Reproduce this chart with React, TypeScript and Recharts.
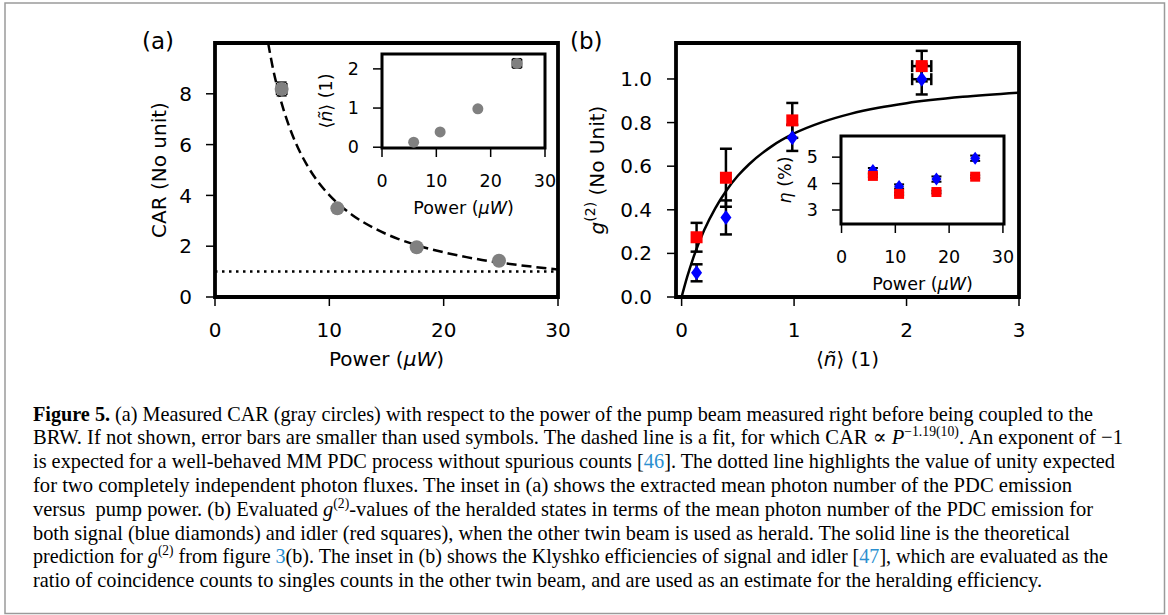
import React from "react";
import {
  ComposedChart, Scatter, Line, XAxis, YAxis, ErrorBar,
  ReferenceArea, ReferenceLine, Label,
} from "recharts";

// (a) CAR vs pump power
const powerUW = [5.83, 10.7, 17.64, 24.84];
const carValues = [8.19, 3.49, 1.96, 1.43];
const carErr = [0.27, 0, 0, 0];
const powerErr = [0.45, 0, 0, 0];

// dashed fit
const fitPower = [4.65, 5, 5.5, 6, 7, 8, 9, 10, 12, 14, 16, 18, 20, 22, 24, 26, 28, 30];
const fitCar = [10.0, 9.15, 8.17, 7.37, 6.13, 5.23, 4.54, 4.01, 3.23, 2.69, 2.29, 1.99, 1.76, 1.57, 1.41, 1.29, 1.18, 1.08];

// inset (a): mean photon number vs power
const meanN = [0.13, 0.39, 0.98, 2.14];
const meanNErr = [0, 0, 0, 0.12];
const insetPowerErr = [0, 0, 0, 0.85];

// (b) heralded g2 vs mean photon number
const nTilde = [0.133, 0.394, 0.984, 2.135];
const nTildeErr = [0, 0, 0, 0.085];
const g2Idler = [0.274, 0.547, 0.81, 1.059];
const g2IdlerErr = [0.066, 0.133, 0.08, 0.07];
const g2Signal = [0.111, 0.365, 0.73, 0.999];
const g2SignalErr = [0.039, 0.078, 0.06, 0.07];

// theory curve for g2
const theoryN = [0, 0.05, 0.1, 0.2, 0.3, 0.4, 0.5, 0.6, 0.8, 1, 1.25, 1.5, 1.75, 2, 2.5, 3];
const theoryG2 = [0, 0.093, 0.174, 0.306, 0.408, 0.49, 0.556, 0.609, 0.691, 0.75, 0.802, 0.84, 0.868, 0.889, 0.918, 0.9375];

// inset (b): Klyshko efficiencies (%)
const etaSignal = [4.49, 3.89, 4.17, 4.96];
const etaIdler = [4.29, 3.61, 3.68, 4.26];
const etaSignalErr = [0.1, 0.08, 0.1, 0.1];
const etaIdlerErr = [0.05, 0.05, 0.05, 0.05];

const FONT = "DejaVu Sans";
const SERIF = "'Liberation Serif', 'DejaVu Serif', serif";
const LINK = "#2b8fd0";

const carRows = powerUW.map((x, i) => ({ x, y: carValues[i], ex: powerErr[i], ey: carErr[i] }));
const fitRows = fitPower.map((x, i) => ({ x, y: fitCar[i] }));
const meanRows = powerUW.map((x, i) => ({ x, y: meanN[i], ex: insetPowerErr[i], ey: meanNErr[i] }));
const idlerRows = nTilde.map((x, i) => ({ x, y: g2Idler[i], ex: nTildeErr[i], ey: g2IdlerErr[i] }));
const signalRows = nTilde.map((x, i) => ({ x, y: g2Signal[i], ex: nTildeErr[i], ey: g2SignalErr[i] }));
const theoryRows = theoryN.map((x, i) => ({ x, y: theoryG2[i] }));
const etaSigRows = powerUW.map((x, i) => ({ x, y: etaSignal[i], ey: etaSignalErr[i] }));
const etaIdlRows = powerUW.map((x, i) => ({ x, y: etaIdler[i], ey: etaIdlerErr[i] }));

const grayDot = (r: number) => (p: any) => <circle cx={p.cx} cy={p.cy} r={r} fill="#808080" />;
const redSquare = (s: number) => (p: any) => (
  <rect x={p.cx - s / 2} y={p.cy - s / 2} width={s} height={s} fill="#ff0000" />
);
const blueDiamond = (w: number, h: number) => (p: any) => (
  <path
    d={`M${p.cx},${p.cy - h / 2}L${p.cx + w / 2},${p.cy}L${p.cx},${p.cy + h / 2}L${p.cx - w / 2},${p.cy}Z`}
    fill="#0000ff"
  />
);
const hidden = () => <g />;

const xLabel = (dist: number, fs: number, content: React.ReactNode) => (props: any) => {
  const vb = props.viewBox;
  return (
    <text x={vb.x + vb.width / 2} y={vb.y + dist} textAnchor="middle" fontSize={fs} fontFamily={FONT} fill="#000">
      {content}
    </text>
  );
};

const yLabel = (dist: number, fs: number, content: React.ReactNode) => (props: any) => {
  const vb = props.viewBox;
  const bx = vb.x + vb.width - dist;
  const cy = vb.y + vb.height / 2;
  return (
    <text x={bx} y={cy} transform={`rotate(-90 ${bx} ${cy})`} textAnchor="middle" fontSize={fs} fontFamily={FONT} fill="#000">
      {content}
    </text>
  );
};

const axisProps = (fs: number) => ({
  type: "number" as const,
  allowDataOverflow: true,
  axisLine: false,
  interval: 0 as const,
  tickSize: 9,
  tickLine: { stroke: "#000", strokeWidth: 1.5 },
  tick: { fill: "#000", fontSize: fs, fontFamily: FONT },
});

const powerText = (
  <>
    Power (<tspan fontStyle="italic">μW</tspan>)
  </>
);
const nText = (
  <>
    ⟨<tspan fontStyle="italic">ñ</tspan>⟩ (1)
  </>
);

function PanelA() {
  return (
    <ComposedChart width={470} height={380} margin={{ top: 43, right: 12, bottom: 23, left: 0 }}>
      <XAxis {...axisProps(20)} dataKey="x" domain={[0, 30]} ticks={[0, 10, 20, 30]} height={60} tickMargin={17}>
        <Label content={xLabel(69, 20, powerText)} />
      </XAxis>
      <YAxis {...axisProps(20)} dataKey="y" domain={[0, 10]} ticks={[0, 2, 4, 6, 8]} width={115} tickMargin={14}>
        <Label content={yLabel(49, 20, "CAR (No unit)")} />
      </YAxis>
      <ReferenceLine y={1} stroke="#000" strokeWidth={2.5} strokeDasharray="2.5 4.5" />
      <Line data={fitRows} dataKey="y" type="monotone" stroke="#000" strokeWidth={2.5} strokeDasharray="10 5" dot={false} activeDot={false} isAnimationActive={false} />
      <Scatter data={carRows} shape={grayDot(7)} isAnimationActive={false}>
        <ErrorBar dataKey="ey" direction="y" width={5} stroke="#000" strokeWidth={1.5} />
        <ErrorBar dataKey="ex" direction="x" width={6} stroke="#000" strokeWidth={1.5} />
      </Scatter>
      <ReferenceArea x1={0} x2={30} y1={0} y2={10} fill="none" stroke="#000" strokeWidth={3.8} />
    </ComposedChart>
  );
}

function InsetA() {
  return (
    <ComposedChart width={260} height={230} margin={{ top: 54, right: 15, bottom: 22, left: 0 }}>
      <XAxis {...axisProps(17.5)} dataKey="x" domain={[0, 30]} ticks={[0, 10, 20, 30]} height={60} tickMargin={18}>
        <Label content={xLabel(66, 17.5, powerText)} />
      </XAxis>
      <YAxis {...axisProps(17.5)} dataKey="y" domain={[-0.02, 2.38]} ticks={[0, 1, 2]} width={82} tickMargin={14}>
        <Label content={yLabel(50, 17.5, nText)} />
      </YAxis>
      <Scatter data={meanRows} shape={grayDot(5.5)} isAnimationActive={false}>
        <ErrorBar dataKey="ey" direction="y" width={4.5} stroke="#000" strokeWidth={1.5} />
        <ErrorBar dataKey="ex" direction="x" width={4.5} stroke="#000" strokeWidth={1.5} />
      </Scatter>
      <ReferenceArea x1={0} x2={30} y1={-0.02} y2={2.38} fill="none" stroke="#000" strokeWidth={3} />
    </ComposedChart>
  );
}

function PanelB() {
  return (
    <ComposedChart width={480} height={380} margin={{ top: 43, right: 21, bottom: 23, left: 0 }}>
      <XAxis {...axisProps(20)} dataKey="x" domain={[-0.05, 3]} ticks={[0, 1, 2, 3]} height={60} tickMargin={17}>
        <Label content={xLabel(69, 20, nText)} />
      </XAxis>
      <YAxis
        {...axisProps(20)}
        dataKey="y"
        domain={[0, 1.165]}
        ticks={[0, 0.2, 0.4, 0.6, 0.8, 1.0]}
        tickFormatter={(v: number) => v.toFixed(1)}
        width={116}
        tickMargin={15}
      >
        <Label
          content={yLabel(
            72.5,
            20,
            <>
              <tspan fontStyle="italic">g</tspan>
              <tspan dy={-9} fontSize={14}>(2)</tspan>
              <tspan dy={9}> (No Unit)</tspan>
            </>
          )}
        />
      </YAxis>
      <Line data={theoryRows} dataKey="y" type="monotone" stroke="#000" strokeWidth={2.5} dot={false} activeDot={false} isAnimationActive={false} />
      <Scatter data={signalRows} shape={hidden} isAnimationActive={false}>
        <ErrorBar dataKey="ey" direction="y" width={6} stroke="#000" strokeWidth={2.5} />
        <ErrorBar dataKey="ex" direction="x" width={6} stroke="#000" strokeWidth={2.5} />
      </Scatter>
      <Scatter data={idlerRows} shape={hidden} isAnimationActive={false}>
        <ErrorBar dataKey="ey" direction="y" width={6} stroke="#000" strokeWidth={2.5} />
        <ErrorBar dataKey="ex" direction="x" width={6} stroke="#000" strokeWidth={2.5} />
      </Scatter>
      <Scatter data={signalRows} shape={blueDiamond(11, 15)} isAnimationActive={false} />
      <Scatter data={idlerRows} shape={redSquare(12)} isAnimationActive={false} />
      <ReferenceArea x1={-0.05} x2={3} y1={0} y2={1.165} fill="none" stroke="#000" strokeWidth={3.8} />
    </ComposedChart>
  );
}

function InsetB() {
  return (
    <ComposedChart width={300} height={250} margin={{ top: 76, right: 16, bottom: 26, left: 0 }}>
      <XAxis {...axisProps(17.5)} dataKey="x" domain={[-0.1, 30.2]} ticks={[0, 10, 20, 30]} height={60} tickMargin={18}>
        <Label content={xLabel(66, 17.5, powerText)} />
      </XAxis>
      <YAxis {...axisProps(17.5)} dataKey="y" domain={[2.47, 5.8]} ticks={[3, 4, 5]} width={121} tickMargin={14}>
        <Label
          content={yLabel(
            50,
            17.5,
            <>
              <tspan fontStyle="italic">η</tspan> (%)
            </>
          )}
        />
      </YAxis>
      <Scatter data={etaSigRows} shape={hidden} isAnimationActive={false}>
        <ErrorBar dataKey="ey" direction="y" width={5} stroke="#000" strokeWidth={2} />
      </Scatter>
      <Scatter data={etaIdlRows} shape={hidden} isAnimationActive={false}>
        <ErrorBar dataKey="ey" direction="y" width={5} stroke="#000" strokeWidth={2} />
      </Scatter>
      <Scatter data={etaSigRows} shape={blueDiamond(10, 13)} isAnimationActive={false} />
      <Scatter data={etaIdlRows} shape={redSquare(10)} isAnimationActive={false} />
      <ReferenceArea x1={-0.1} x2={30.2} y1={2.47} y2={5.8} fill="none" stroke="#000" strokeWidth={3} />
    </ComposedChart>
  );
}

function Caption() {
  const x = 33;
  const b0 = 420.5;
  const step = 23.8;
  const common = {
    x,
    fontSize: 21,
    fontFamily: SERIF,
    fill: "#000",
    lengthAdjust: "spacingAndGlyphs" as const,
    style: { whiteSpace: "pre" as const },
  };
  return (
    <>
      <text {...common} y={b0} textLength={1060}>
        <tspan fontWeight="bold">Figure 5.</tspan> (a) Measured CAR (gray circles) with respect to the power of the pump beam measured right before being coupled to the
      </text>
      <text {...common} y={b0 + step} textLength={1090}>
        BRW. If not shown, error bars are smaller than used symbols. The dashed line is a fit, for which CAR ∝ <tspan fontStyle="italic">P</tspan>
        <tspan dy={-8} fontSize={14}>−1.19(10)</tspan>
        <tspan dy={8}>. An exponent of −1</tspan>
      </text>
      <text {...common} y={b0 + step * 2} textLength={1082}>
        is expected for a well-behaved MM PDC process without spurious counts [<tspan fill={LINK}>46</tspan>]. The dotted line highlights the value of unity expected
      </text>
      <text {...common} y={b0 + step * 3} textLength={1039}>
        for two completely independent photon fluxes. The inset in (a) shows the extracted mean photon number of the PDC emission
      </text>
      <text {...common} y={b0 + step * 4} textLength={1060}>
        versus  pump power. (b) Evaluated <tspan fontStyle="italic">g</tspan>
        <tspan dy={-8} fontSize={14}>(2)</tspan>
        <tspan dy={8}>-values of the heralded states in terms of the mean photon number of the PDC emission for</tspan>
      </text>
      <text {...common} y={b0 + step * 5} textLength={1037}>
        both signal (blue diamonds) and idler (red squares), when the other twin beam is used as herald. The solid line is the theoretical
      </text>
      <text {...common} y={b0 + step * 6} textLength={1075}>
        prediction for <tspan fontStyle="italic">g</tspan>
        <tspan dy={-8} fontSize={14}>(2)</tspan>
        <tspan dy={8}> from figure </tspan>
        <tspan fill={LINK}>3</tspan>(b). The inset in (b) shows the Klyshko efficiencies of signal and idler [<tspan fill={LINK}>47</tspan>], which are evaluated as the
      </text>
      <text {...common} y={b0 + step * 7} textLength={1009}>
        ratio of coincidence counts to singles counts in the other twin beam, and are used as an estimate for the heralding efficiency.
      </text>
    </>
  );
}

export default function App() {
  const abs = (left: number, top: number): React.CSSProperties => ({ position: "absolute", left, top });
  return (
    <div style={{ position: "absolute", left: 0, top: 0, width: 1168, height: 615, background: "#fff", overflow: "hidden" }}>
      <svg width={1168} height={615} style={abs(0, 0)}>
        <rect x={5} y={3} width={1159.5} height={610.5} fill="none" stroke="#9a9a9a" strokeWidth={1.5} />
        <text x={142} y={49} fontSize={23} fontFamily={FONT} fill="#000">(a)</text>
        <text x={570} y={49} fontSize={23} fontFamily={FONT} fill="#000">(b)</text>
        <Caption />
      </svg>
      <div style={abs(100, 0)}><PanelA /></div>
      <div style={abs(300, 0)}><InsetA /></div>
      <div style={abs(560, 0)}><PanelB /></div>
      <div style={abs(720, 60)}><InsetB /></div>
    </div>
  );
}
